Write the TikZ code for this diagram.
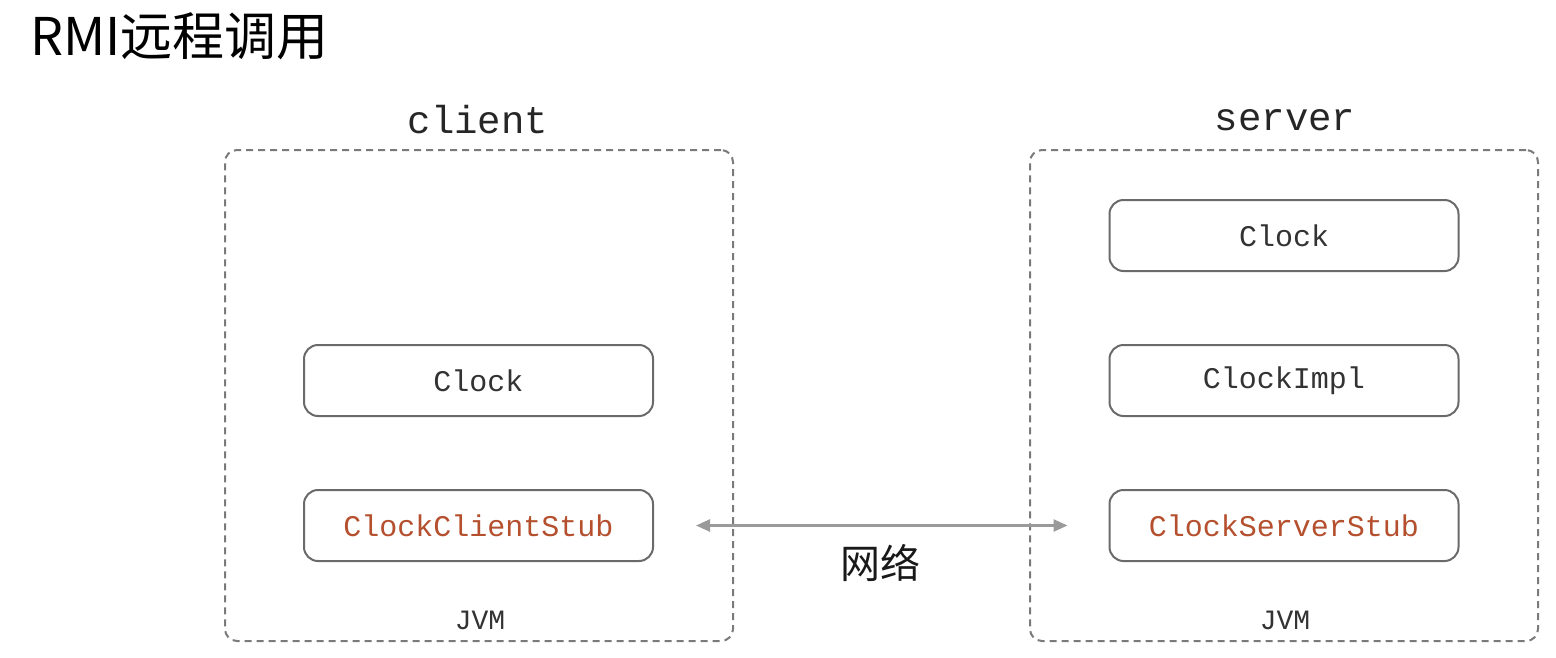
\documentclass[tikz,border=0pt]{standalone}
\usepackage{fontspec}
\setmainfont{Noto Sans CJK SC}
\setmonofont{Liberation Mono}
\newfontfamily\cjk{Noto Sans CJK SC}
\usepackage{xcolor}
\usepackage{tikz}
\usetikzlibrary{positioning,arrows.meta}

\definecolor{boxline}{HTML}{6A6A6A}
\definecolor{dashline}{HTML}{7A7A7A}
\definecolor{stubred}{HTML}{B5502F}
\definecolor{txtgray}{HTML}{333333}
\definecolor{netgray}{HTML}{9A9A9A}

\begin{document}
\begin{tikzpicture}[
x=1pt, y=-1pt,
node distance=145pt,
jvmbox/.style={
draw=dashline,
line width=2pt,
dash pattern=on 7pt off 5pt,
rounded corners=12pt,
minimum width=508pt,
minimum height=491pt
},
classbox/.style={
draw=boxline,
line width=2pt,
rounded corners=14pt,
minimum width=349pt,
minimum height=71pt,
text=txtgray,
font=\ttfamily\fontsize{30}{34}\selectfont
},
stubbox/.style={
classbox,
text=stubred
},
header/.style={
text=black!85,
font=\ttfamily\fontsize{39}{44}\selectfont
},
jvmlabel/.style={
text=txtgray,
font=\ttfamily\fontsize{28}{32}\selectfont
},
netarrow/.style={
draw=netgray,
line width=2.5pt,
{Triangle[length=14pt,width=12pt]}-{Triangle[length=14pt,width=12pt]}
}
]
\useasboundingbox[fill=white] (0,0) rectangle (1556,657);

\node[anchor=base west, inner sep=0pt, font=\cjk\fontsize{52}{58}\selectfont] (title) at (30,55) {RMI远程调用};

% client side
\node[jvmbox] (clientjvm) at (479,395.5) {};
\node[header] (clientlbl) at (478,120) {client};
\node[classbox] (cclock) at (478.5,380.5) {Clock};
\node[stubbox, below of=cclock] (cstub) {ClockClientStub};
\node[jvmlabel] (cjvm) at (480,620) {JVM};

% server side
\node[jvmbox] (serverjvm) at (1284,395.5) {};
\node[header] (serverlbl) at (1285,120) {server};
\node[classbox] (sclock) at (1284,235.5) {Clock};
\node[classbox, below of=sclock] (simpl) {ClockImpl};
\node[stubbox, below of=simpl] (sstub) {ClockServerStub};
\node[jvmlabel] (sjvm) at (1285,620) {JVM};

% network
\draw[netarrow] ([xshift=42pt]cstub.east) -- ([xshift=-41pt]sstub.west);
\node[font=\cjk\fontsize{40}{46}\selectfont, text=black!90] (net) at (880,563) {网络};
\end{tikzpicture}
\end{document}
